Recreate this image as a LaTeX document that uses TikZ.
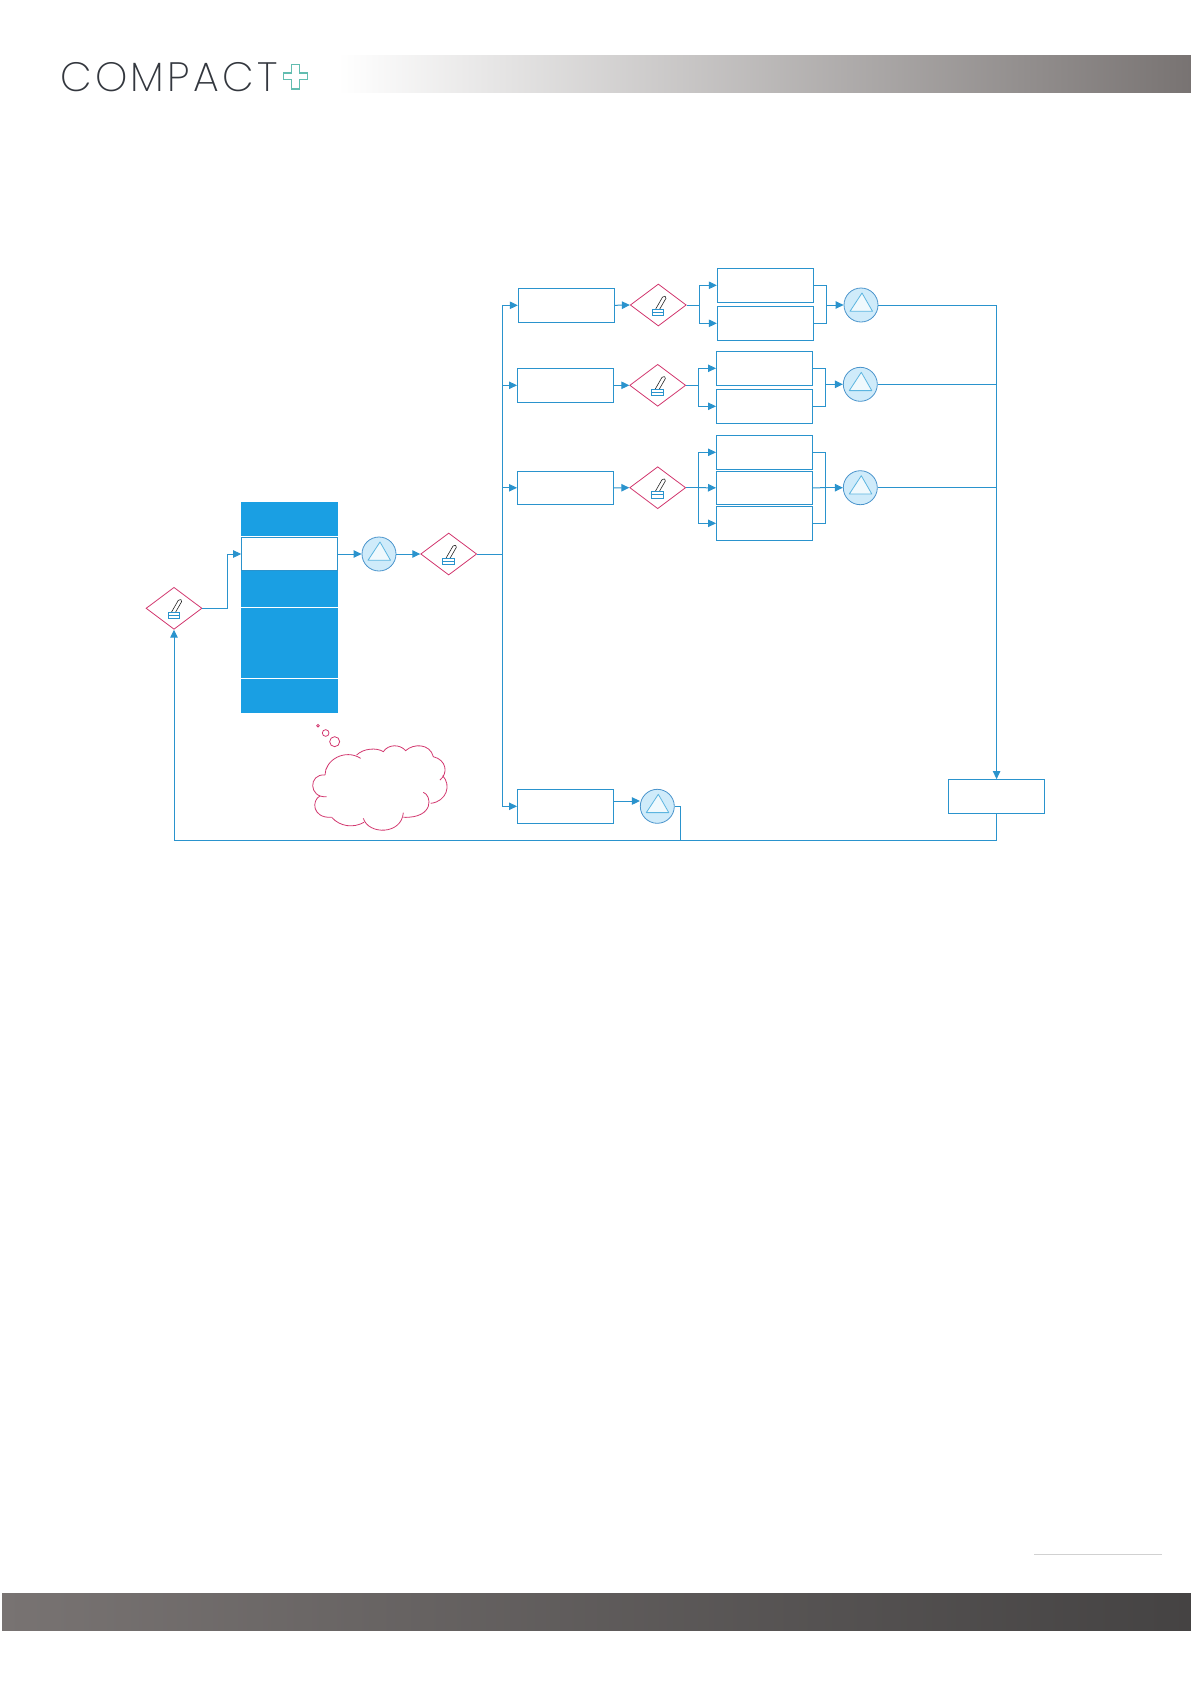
\documentclass[tikz,border=0pt]{standalone}
\usepackage{fontspec}
\usetikzlibrary{shapes.geometric,arrows.meta}
\newfontfamily\logofont[LetterSpace=8]{Poppins ExtraLight}
\definecolor{wire}{HTML}{2A93CD}
\definecolor{stackblue}{HTML}{1A9FE3}
\definecolor{pinkline}{HTML}{D2386F}
\definecolor{discfill}{HTML}{CFEBFA}
\definecolor{discline}{HTML}{4A94CC}
\definecolor{triline}{HTML}{5CB5E0}
\definecolor{logogrey}{HTML}{33373E}
\definecolor{logoteal}{HTML}{62BDB0}
\definecolor{barmid}{HTML}{787372}
\definecolor{barend}{HTML}{454343}
\tikzset{
  x=1pt,y=-1pt,
  wireline/.style={draw=wire,line width=1pt},
  flow/.style={wireline,-{Triangle[length=8pt,width=7.5pt]}},
  rowbox/.style={draw=wire,line width=1pt,fill=white,rectangle,inner sep=0pt,minimum width=96pt,minimum height=34pt},
  swdiamond/.style={draw=pinkline,line width=0.8pt,fill=white,diamond,inner sep=0pt,minimum width=56pt,minimum height=42pt},
  disc/.style={draw=discline,line width=0.8pt,fill=discfill,circle,inner sep=0pt,minimum size=34pt},
  stackcell/.style={rectangle,inner sep=0pt,minimum width=97pt,fill=stackblue},
  cloudline/.style={draw=pinkline,line width=0.8pt},
  swicon/.pic={
    \draw[black!85,line width=0.6pt,rounded corners=1.5pt] (-2.6,4) -- (5,-9.2) -- (8.4,-8) -- (1.2,4.5);
    \draw[wire,line width=0.9pt,fill=white] (-6,4) rectangle (5.4,10.5);
    \draw[wire,line width=0.9pt] (-6,7.2) -- (5.4,7.2);
  },
  trimark/.pic={
    \draw[triline,line width=0.8pt,fill=white,fill opacity=.7,line join=round] (1,-12) -- (11.5,6.3) -- (-11,6.3) -- cycle;
  }
}
\begin{document}
\begin{tikzpicture}
\useasboundingbox (0,0) rectangle (1191,1684);
% page furniture
\shade[left color=white,right color=barmid] (338,55) rectangle (1191,92.5);
\shade[left color=barmid,right color=barend] (2,1593) rectangle (1191,1630.5);
\draw[black!18,line width=0.8pt] (1034,1554) -- (1162,1554);
\node[anchor=base west,inner sep=0pt,text=logogrey] (logo) at (60,91) {\logofont\fontsize{41}{41}\selectfont COMPACT};
\draw[logoteal,line width=1.5pt,fill=white] (291.5,64.5) -- (299.5,64.5) -- (299.5,73) -- (307.5,73) -- (307.5,79.5) -- (299.5,79.5) -- (299.5,89) -- (291.5,89) -- (291.5,79.5) -- (283.5,79.5) -- (283.5,73) -- (291.5,73) -- cycle;
% stack
\node[stackcell,minimum height=34pt] (s1) at (289.5,519) {};
\node[rectangle,inner sep=0pt,minimum width=96pt,minimum height=33.4pt,draw=wire,line width=0.7pt,fill=white] (s2) at (289.5,554) {};
\node[stackcell,minimum height=35.7pt] (s3) at (289.5,588.85) {};
\node[stackcell,minimum height=69.7pt] (s4) at (289.5,642.85) {};
\node[stackcell,minimum height=34pt] (s5) at (289.5,696) {};
% diamonds and discs of the left part
\node[swdiamond] (d0) at (174,608.3) {};
\node[swdiamond] (d1) at (448.7,554) {};
\node[disc] (c0) at (379,554) {};
\coordinate (bus) at (502.3,554);
\coordinate (bend) at (227.5,608.3);
% rows
\node[rowbox] (r1) at (566.3,305.3) {};
\node[rowbox] (r2) at (565.5,385.3) {};
\node[rowbox,minimum height=33pt] (r3) at (565.5,487.8) {};
\node[rowbox] (r4) at (565.5,806.3) {};
\node[swdiamond] (dr1) at (658.3,305) {};
\node[swdiamond] (dr2) at (657.7,385.3) {};
\node[swdiamond] (dr3) at (657.7,487.7) {};
\node[rowbox] (a1) at (765.3,285.3) {};
\node[rowbox] (a2) at (765.3,323.3) {};
\node[rowbox] (b1) at (764.5,368.3) {};
\node[rowbox] (b2) at (764.5,406.3) {};
\node[rowbox] (e1) at (764.5,452.3) {};
\node[rowbox,minimum height=33pt] (e2) at (764.5,487.8) {};
\node[rowbox] (e3) at (764.5,523.3) {};
\node[disc] (c1) at (861,305) {};
\node[disc] (c2) at (860.3,384.3) {};
\node[disc] (c3) at (860.3,487.7) {};
\node[disc] (c4) at (657.3,806.3) {};
\node[rowbox] (fin) at (996.6,796.6) {};
\foreach \n in {d0,d1,dr1,dr2,dr3} \pic at (\n) {swicon};
\foreach \n in {c0,c1,c2,c3,c4} \pic at (\n) {trimark};
\coordinate (sp1) at (699.3,305);
\coordinate (sp2) at (698.3,385.3);
\coordinate (sp3) at (698.3,487.7);
\coordinate (jn1) at (826.3,305);
\coordinate (jn2) at (825.3,384.3);
\coordinate (jn3) at (825.3,487.7);
\coordinate (low) at (680.3,840.3);
\coordinate (corner) at (996.6,840.3);
\coordinate (back) at (174,840.3);
% connectors
\draw[flow] (d0.east) -- (bend) |- (s2.west);
\draw[flow] (s2.east) -- (c0.west);
\draw[flow] (c0.east) -- (d1.west);
\draw[wireline] (d1.east) -- (bus);
\draw[wireline] (bus |- r1.west) -- (bus |- r4.west);
\foreach \n in {r1,r2,r3,r4} \draw[flow] (bus |- \n.west) -- (\n.west);
\draw[flow] (r1.east) -- (dr1.west);
\draw[flow] (r2.east) -- (dr2.west);
\draw[flow] (r3.east) -- (dr3.west);
\draw[wireline] (dr1.east) -- (sp1);
\draw[wireline] (dr2.east) -- (sp2);
\draw[wireline] (dr3.east) -- (sp3);
\foreach \n in {a1,a2} \draw[flow] (sp1) |- (\n.west);
\foreach \n in {b1,b2} \draw[flow] (sp2) |- (\n.west);
\draw[flow] (sp3) |- (e1.west);
\draw[flow] (sp3) -- (e2.west);
\draw[flow] (sp3) |- (e3.west);
\foreach \n in {a1,a2} \draw[wireline] (\n.east) -| (jn1);
\foreach \n in {b1,b2} \draw[wireline] (\n.east) -| (jn2);
\foreach \n in {e1,e3} \draw[wireline] (\n.east) -| (jn3);
\draw[wireline] (e2.east) -- (jn3);
\draw[flow] (jn1) -- (c1.west);
\draw[flow] (jn2) -- (c2.west);
\draw[flow] (jn3) -- (c3.west);
\draw[flow] (c1.east) -| (fin.north);
\draw[wireline] (c2.east) -- (c2.east -| fin.north);
\draw[wireline] (c3.east) -- (c3.east -| fin.north);
\draw[flow] (r4.east |- 0,801) -- (c4.west |- 0,801);
\draw[wireline] (c4.east) -| (low);
\draw[flow] (fin.south) -- (corner) -- (back) -- (d0.south);
% thought cloud
\begin{scope}[shift={(290,710)},x=0.3333pt,y=-0.3333pt]
\draw[cloudline] (105,195) .. controls (105,150) and (165,115) .. (212,145);
\draw[cloudline] (200,135) .. controls (220,115) and (260,112) .. (280,125)
  .. controls (295,102) and (330,102) .. (347,122)
  .. controls (370,100) and (420,100) .. (430,140)
  .. controls (470,150) and (475,190) .. (450,210);
\draw[cloudline] (458,197) .. controls (485,225) and (470,275) .. (422,280);
\draw[cloudline] (400,247) .. controls (425,255) and (435,325) .. (340,322);
\draw[cloudline] (340,308) .. controls (335,375) and (235,375) .. (220,325);
\draw[cloudline] (222,337) .. controls (190,355) and (150,350) .. (125,322);
\draw[cloudline] (125,322) .. controls (65,325) and (65,270) .. (90,258);
\draw[cloudline] (110,260) .. controls (55,265) and (55,190) .. (105,195);
\draw[cloudline] (84,47) circle[radius=4];
\draw[cloudline] (107,69) circle[radius=10];
\draw[cloudline] (134,95) circle[radius=15];
\end{scope}
\end{tikzpicture}
\end{document}
